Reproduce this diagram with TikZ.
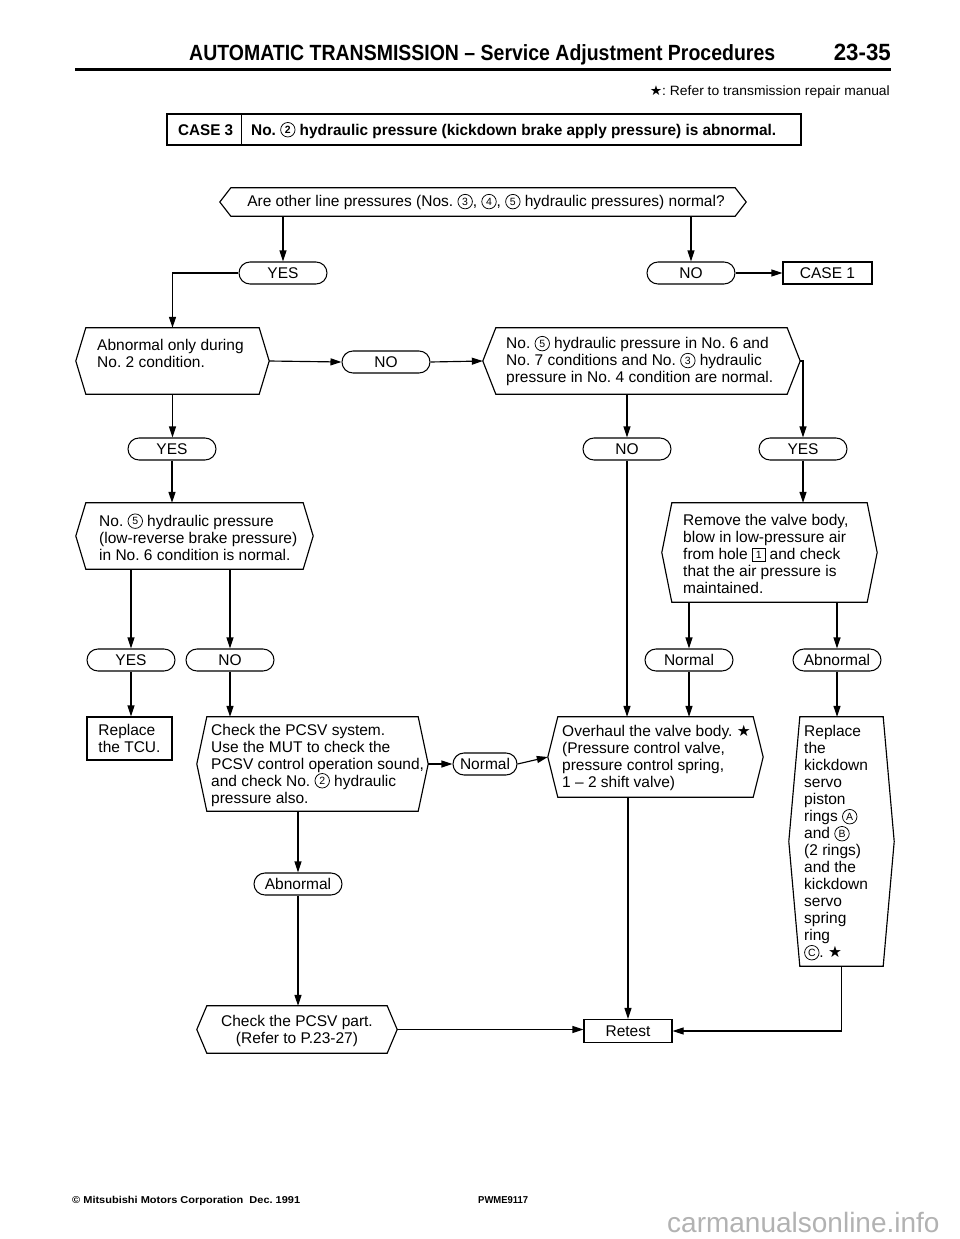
\documentclass[tikz,border=0pt]{standalone}
\usepackage{fontspec}
\setmainfont{Liberation Sans}
\newfontfamily\dv{DejaVu Sans}
\usepackage{graphicx}
\usetikzlibrary{shapes.misc,arrows.meta,calc}
\frenchspacing

\newcommand\cn[1]{\tikz[baseline={([yshift=-1.6pt]cc.base)}]\node[circle,draw,line width=0.75pt,inner sep=0pt,minimum size=14.5pt,font=\fontsize{10.5}{10.5}\selectfont](cc){#1};}
\newcommand\bx[1]{\tikz[baseline={([yshift=-1pt]bb.base)}]\node[draw,line width=0.75pt,inner sep=0pt,minimum size=12.5pt,font=\fontsize{10.5}{10.5}\selectfont](bb){#1};}
\newcommand\hexbox[6]{%
  \node[inner sep=0pt, minimum width={#4-#2}, minimum height={#5-#3}] (#1) at ({(#2+#4)/2},{(#3+#5)/2}) {};
  \coordinate (#1-l) at ($(#1.west)+(-#6,0)$);
  \coordinate (#1-r) at ($(#1.east)+(#6,0)$);
  \draw[boxline] (#1.north west) -- (#1.north east) -- (#1-r) -- (#1.south east) -- (#1.south west) -- (#1-l) -- cycle;}

\begin{document}
\begin{tikzpicture}[x=1pt,y=-1pt,
  boxline/.style={line width=1.15pt, line join=miter},
  txt/.style={font=\fontsize{15.5}{17}\selectfont\frenchspacing, align=left, inner sep=0pt},
  pill/.style={rounded rectangle, draw, line width=1.05pt, minimum width=88pt, minimum height=22pt, inner sep=0pt, font=\fontsize{15.5}{17}\selectfont},
  rect/.style={draw, line width=1.15pt, inner sep=0pt, align=left, font=\fontsize{15.5}{17}\selectfont\frenchspacing},
  arr/.style={-{Triangle[length=11pt,width=7pt]}, line width=1.15pt}]
\path[use as bounding box, fill=white] (0,0) rectangle (960,1239);

% header
\node[anchor=base west, inner sep=0pt] (title) at (189,61) {\resizebox{586pt}{\height}{\fontsize{22}{22}\selectfont\bfseries AUTOMATIC TRANSMISSION – Service Adjustment Procedures}};
\node[anchor=base east, inner sep=0pt] (pg) at (891,61) {\resizebox{57pt}{\height}{\fontsize{23.5}{23.5}\selectfont\bfseries 23-35}};
\draw[line width=3pt] (75,69.5) -- (891,69.5);
\node[anchor=base east, inner sep=0pt] (note) at (890,95) {\resizebox{240pt}{\height}{\fontsize{13.5}{13.5}\selectfont{\dv ★}: Refer to transmission repair manual}};
\node[draw, line width=1.3pt, minimum width=634pt, minimum height=31pt, inner sep=0pt] (case3) at (484,129.5) {};
\draw[line width=1.1pt] ($(case3.north west)+(75,0)$) -- ($(case3.south west)+(75,0)$);
\node[anchor=base west, inner sep=0pt] (case3a) at (178,135) {\resizebox{55pt}{\height}{\fontsize{15.5}{15.5}\selectfont\bfseries CASE 3}};
\node[anchor=base west, inner sep=0pt] (case3b) at (251,135) {\resizebox{525pt}{\height}{\fontsize{15.5}{15.5}\selectfont\bfseries\frenchspacing No. \cn{2} hydraulic pressure (kickdown brake apply pressure) is abnormal.}};

% decision boxes
\hexbox{q0}{231}{188}{735}{216}{11}
\node[txt] (q0t) at (486,202) {Are other line pressures (Nos. \cn{3}, \cn{4}, \cn{5} hydraulic pressures) normal?};
\hexbox{q1}{86}{328}{259}{394}{10}
\node[txt,anchor=west] (q1t) at (97,362) {Abnormal only during\\No. 2 condition.\\\mbox{}};
\hexbox{q2}{496}{328}{787}{394}{13}
\node[txt,anchor=west] (q2t) at (506,361) {No. \cn{5} hydraulic pressure in No. 6 and\\No. 7 conditions and No. \cn{3} hydraulic\\pressure in No. 4 condition are normal.};
\hexbox{q3}{86}{503}{303}{569}{10}
\node[txt,anchor=west] (q3t) at (99,537) {No. \cn{5} hydraulic pressure\\(low-reverse brake pressure)\\in No. 6 condition is normal.};
\hexbox{q4}{672}{503}{867}{602}{10}
\node[txt,anchor=west] (q4t) at (683,554) {Remove the valve body,\\blow in low-pressure air\\from hole \bx{1} and check\\that the air pressure is\\maintained.};
\hexbox{pcsv}{207}{717}{418}{811}{10}
\node[txt,anchor=west] (pcsvt) at (211,765) {Check the PCSV system.\\Use the MUT to check the\\PCSV control operation sound,\\and check No. \cn{2} hydraulic\\pressure also.};
\hexbox{ovh}{558}{717}{753}{797}{10}
\node[txt,anchor=west] (ovht) at (562,758) {Overhaul the valve body. {\dv ★}\\(Pressure control valve,\\pressure control spring,\\1 – 2 shift valve)};
\hexbox{rkd}{800}{717}{883}{966}{11}
\node[txt,anchor=west] (rkdt) at (804,843) {Replace\\the\\kickdown\\servo\\piston\\rings \cn{A}\\and \cn{B}\\(2 rings)\\and the\\kickdown\\servo\\spring\\ring\\\cn{C}. {\dv ★}};
\hexbox{chk}{207}{1006}{387}{1053}{10}
\node[txt,align=center] (chkt) at (297,1031) {Check the PCSV part.\\(Refer to P.23-27)};

% pills and boxes
\node[pill] (yes1) at (283,273) {YES};
\node[pill] (no1) at (691,273) {NO};
\node[rect, minimum width=89pt, minimum height=22pt] (case1) at (827.5,273) {CASE 1};
\node[pill] (no2) at (386,362) {NO};
\node[pill] (yes2) at (172,449) {YES};
\node[pill] (no3) at (627,449) {NO};
\node[pill] (yes3) at (803,449) {YES};
\node[pill] (yes4) at (131,660) {YES};
\node[pill] (no4) at (230,660) {NO};
\node[pill] (nrm2) at (689,660) {Normal};
\node[pill] (abn2) at (837,660) {Abnormal};
\node[pill, minimum width=64pt] (nrm1) at (485,764) {Normal};
\node[pill] (abn1) at (298,884) {Abnormal};
\node[rect, minimum width=85pt, minimum height=43pt] (tcu) at (129.5,738.5) {Replace\\the TCU.};
\node[rect, minimum width=88pt, minimum height=23pt] (retest) at (628,1031) {Retest};

% connectors
\draw[arr] (yes1 |- q0.south) -- (yes1.north);
\draw[arr] (no1 |- q0.south) -- (no1.north);
\draw[arr] (no1.east) -- (case1.west);
\draw[arr] (yes1.west) -| (q1.north);
\draw[arr] (q1-r) -- (no2.west);
\draw[arr] (no2.east) -- (q2-l);
\draw[arr] (q1.south) -- (q1.south |- yes2.north);
\draw[arr] (no3 |- q2.south) -- (no3.north);
\draw[arr] (q2-r) -| (yes3.north);
\draw[arr] (yes2.south) -- (yes2.south |- q3.north);
\draw[arr] (yes4 |- q3.south) -- (yes4.north);
\draw[arr] (no4 |- q3.south) -- (no4.north);
\draw[arr] (yes4.south) -- (yes4.south |- tcu.north);
\draw[arr] (no4.south) -- (no4.south |- pcsv.north);
\draw[arr] (yes3.south) -- (yes3.south |- q4.north);
\draw[arr] (nrm2 |- q4.south) -- (nrm2.north);
\draw[arr] (abn2 |- q4.south) -- (abn2.north);
\draw[arr] (nrm2.south) -- (nrm2.south |- ovh.north);
\draw[arr] (no3.south) -- (no3.south |- ovh.north);
\draw[arr] (abn2.south) -- (abn2.south |- rkd.north);
\draw[arr] (pcsv-r) -- (nrm1.west);
\draw[arr] (nrm1.east) -- (ovh-l);
\draw[arr] (abn1 |- pcsv.south) -- (abn1.north);
\draw[arr] (abn1.south) -- (abn1.south |- chk.north);
\draw[arr] (chk-r) -- (chk-r -| retest.west);
\draw[arr] (retest |- ovh.south) -- (retest.north);
\draw[arr] (rkd.south) |- (retest.east);

% footer
\node[anchor=base west, inner sep=0pt] (copy) at (72,1203) {\resizebox{228pt}{\height}{\fontsize{10}{10}\selectfont\bfseries © Mitsubishi Motors Corporation\ \ Dec. 1991}};
\node[anchor=base west, inner sep=0pt] (code) at (478,1203) {\resizebox{50pt}{\height}{\fontsize{10}{10}\selectfont\bfseries PWME9117}};
\node[anchor=base west, inner sep=0pt, text=black!30] (wm) at (667,1232) {\fontsize{28}{28}\selectfont carmanualsonline.info};
\end{tikzpicture}
\end{document}
